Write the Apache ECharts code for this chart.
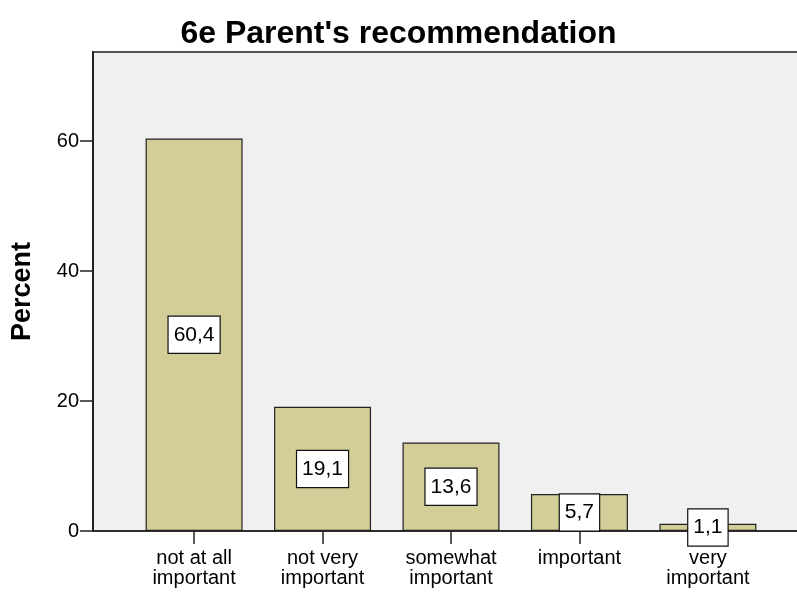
<!DOCTYPE html>
<html>
<head>
<meta charset="utf-8">
<script src="https://cdn.jsdelivr.net/npm/echarts@6/dist/echarts.min.js"></script>
<style>
  html, body { margin: 0; padding: 0; background: #fff; }
  #chart { width: 797px; height: 592px; }
</style>
</head>
<body>
<div id="chart"></div>
<script>
// Answer categories, percentages and y-axis ticks
const categories = ['not at all\nimportant', 'not very\nimportant', 'somewhat\nimportant', 'important', 'very\nimportant'];
const percents = [60.4, 19.1, 13.6, 5.7, 1.1];
const yTicks = [0, 20, 40, 60];

const FONT = '"Liberation Sans", Arial, sans-serif';
const positions = categories.map((_, i) => i);

const chart = echarts.init(document.getElementById('chart'), null, { renderer: 'canvas' });

chart.setOption({
  backgroundColor: '#ffffff',
  animation: false,
  title: {
    text: "6e Parent's recommendation",
    left: 'center',
    top: 13,
    textStyle: { fontFamily: FONT, fontSize: 32, fontWeight: 'bold', color: '#000' }
  },
  grid: {
    left: 93,
    width: 716,
    top: 52,
    bottom: 61,
    outerBoundsMode: 'none',
    containLabel: false,
    show: true,
    backgroundColor: '#f0f0f0',
    borderColor: '#555',
    borderWidth: 2
  },
  xAxis: {
    type: 'value',
    min: -0.787,
    max: 4.787,
    axisLine: { show: true, onZero: false, lineStyle: { color: '#222', width: 1.5 } },
    axisTick: { show: true, length: 13, customValues: positions, lineStyle: { color: '#222', width: 1.5 } },
    axisLabel: {
      customValues: positions,
      margin: 17,
      fontFamily: FONT,
      fontSize: 20,
      lineHeight: 20,
      color: '#000',
      formatter: v => categories[Math.round(v)]
    },
    splitLine: { show: false }
  },
  yAxis: {
    type: 'value',
    min: 0,
    max: 73.7,
    name: 'Percent',
    nameLocation: 'middle',
    nameRotate: 90,
    nameGap: 57,
    nameTextStyle: { fontFamily: FONT, fontSize: 27, fontWeight: 'bold', color: '#000' },
    axisLine: { show: true, onZero: false, lineStyle: { color: '#222', width: 2 } },
    axisTick: { show: true, length: 13, customValues: yTicks, lineStyle: { color: '#222', width: 1.5 } },
    axisLabel: {
      customValues: yTicks,
      margin: 14,
      fontFamily: FONT,
      fontSize: 20,
      color: '#000'
    },
    splitLine: { show: false }
  },
  series: [{
    type: 'bar',
    barWidth: 97,
    data: percents.map((v, i) => [i, v]),
    itemStyle: { color: '#d3ce97', borderColor: '#222', borderWidth: 1.2 },
    label: {
      show: true,
      position: 'inside',
      formatter: p => p.value[1].toFixed(1).replace('.', ','),
      fontFamily: FONT,
      fontSize: 21,
      lineHeight: 20,
      color: '#000',
      backgroundColor: '#fff',
      borderColor: '#111',
      borderWidth: 1.2,
      padding: [8, 5, 8, 5]
    }
  }]
});
</script>
</body>
</html>
